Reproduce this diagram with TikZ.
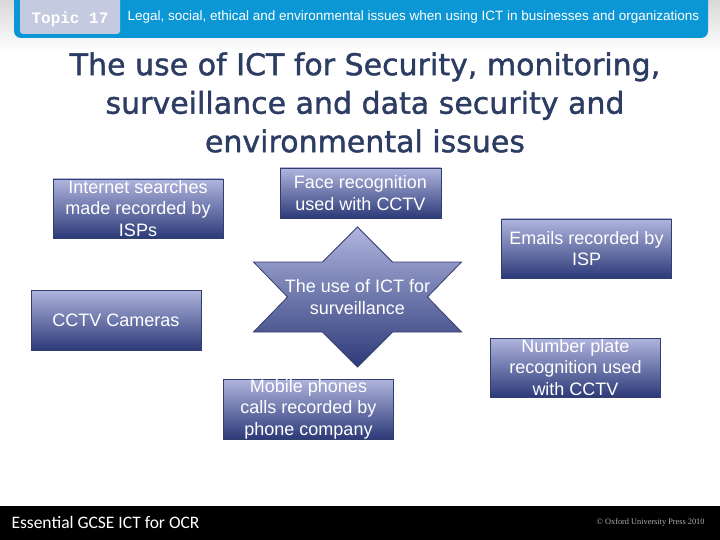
\documentclass[tikz,border=0pt]{standalone}
\usepackage{fontspec}
\setmainfont{Liberation Sans}
\newfontfamily\titlefont[FakeBold=1.3]{DejaVu Sans}
\newfontfamily\topicfont{Liberation Mono}
\newfontfamily\footfont{Carlito}
\newfontfamily\pressfont{Liberation Serif}
\usetikzlibrary{positioning}

\definecolor{hdrblue}{HTML}{0B97D5}
\definecolor{tabgrey}{HTML}{C4CADF}
\definecolor{titlenavy}{HTML}{2C3C62}
\definecolor{boxtop}{HTML}{B0B5DE}
\definecolor{boxbot}{HTML}{2C3A78}
\definecolor{boxline}{HTML}{323E6E}

\tikzset{
  infobox/.style={draw=boxline, line width=0.8pt, top color=boxtop, bottom color=boxbot, minimum width=170pt, inner sep=0pt},
  infotext/.style={text=white, align=center, inner sep=0pt, font=\fontsize{18}{21.5}\selectfont},
}

\begin{document}
\begin{tikzpicture}[x=1pt, y=-1pt]
  \useasboundingbox (0,0) rectangle (720,540);
  \shade[top color=gray!30, bottom color=white] (0,0) rectangle (720,52);
  \fill[hdrblue, rounded corners=7pt] (14,-10) rectangle (708,38);
  \fill[tabgrey, rounded corners=3pt] (20,-5) rectangle (120,34);
  \node[font=\topicfont\bfseries\fontsize{16}{16}\selectfont, text=white] (topic) at (70,19) {Topic 17};
  \node[anchor=west, font=\fontsize{13.5}{13.5}\selectfont, text=white] (unit) at (124,17) {Legal, social, ethical and environmental issues when using ICT in businesses and organizations};

  \node[align=center, text=titlenavy, font=\titlefont\fontsize{30}{38.5}\selectfont] (title) at (365,102.5) {The use of ICT for Security, monitoring,\\surveillance and data security and\\environmental issues};

  \node[infobox, minimum height=59pt, label={[infotext, name=searchestext]center:{Internet searches\\made recorded by\\ISPs}}] (searches) at (138,208.5) {};
  \node[infobox, minimum width=161pt, minimum height=50pt, label={[infotext, name=facetext]center:{Face recognition\\used with CCTV}}] (face) at (360.5,193) {};
  \node[infobox, minimum height=59pt, label={[infotext, name=emailstext]center:{Emails recorded by\\ISP}}] (emails) at (586.5,248.5) {};
  \node[infobox, minimum height=60pt, label={[infotext, name=cctvtext]center:{CCTV Cameras}}] (cctv) at (116,320) {};
  \node[infobox, minimum height=59pt, label={[infotext, name=platestext]center:{Number plate\\recognition used\\with CCTV}}] (plates) at (575.5,367.5) {};
  \node[infobox, minimum height=60pt, label={[infotext, name=mobiletext]center:{Mobile phones\\calls recorded by\\phone company}}] (mobile) at (308.5,409) {};

  \coordinate (hub) at (357.5,297);
  \shade[draw=boxline, line width=0.8pt, top color=boxtop, bottom color=boxbot, shift={(hub)}]
    (0,-70) -- (35,-35) -- (104,-35) -- (70,0) -- (104,35) -- (35,35) -- (0,70)
    -- (-35,35) -- (-104,35) -- (-70,0) -- (-104,-35) -- (-35,-35) -- cycle;
  \node[infotext] (hubtext) at (hub) {The use of ICT for\\surveillance};

  \fill[black] (0,506) rectangle (720,540);
  \node[anchor=west, text=white, font=\footfont\fontsize{17.5}{17.5}\selectfont] (book) at (8,522) {Essential GCSE ICT for OCR};
  \node[anchor=east, text=gray!60, font=\pressfont\fontsize{8.3}{8.3}\selectfont] (press) at (708,522) {© Oxford University Press 2010};
\end{tikzpicture}
\end{document}
